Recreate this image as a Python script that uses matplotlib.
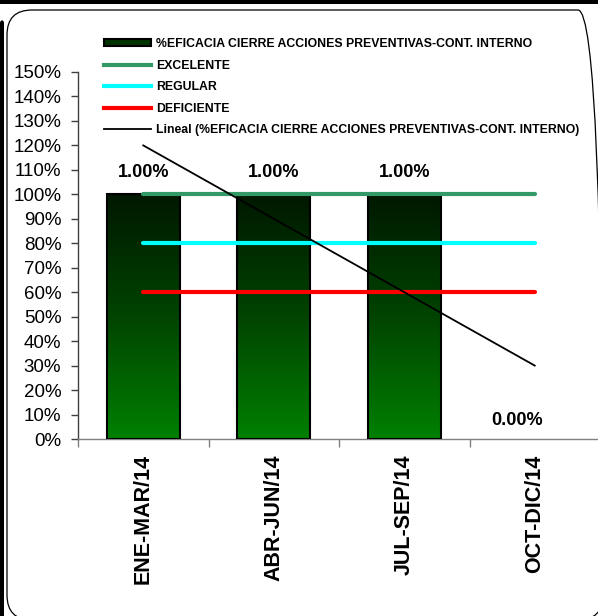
import numpy as np
import matplotlib
matplotlib.use("Agg")
import matplotlib.pyplot as plt
from matplotlib.patches import Rectangle, FancyBboxPatch, Patch
from matplotlib.lines import Line2D
from matplotlib.transforms import IdentityTransform
from matplotlib.colors import LinearSegmentedColormap
from matplotlib.ticker import FuncFormatter, FixedLocator

plt.rcParams['font.family'] = ['Liberation Sans', 'DejaVu Sans']

# ---- data ----
categories = ["ENE-MAR/14", "ABR-JUN/14", "JUL-SEP/14", "OCT-DIC/14"]
eficacia = [1.0, 1.0, 1.0, 0.0]
data_labels = ["1.00%", "1.00%", "1.00%", "0.00%"]
excelente = [1.0, 1.0, 1.0, 1.0]
regular = [0.8, 0.8, 0.8, 0.8]
deficiente = [0.6, 0.6, 0.6, 0.6]
serie_name = "%EFICACIA CIERRE ACCIONES PREVENTIVAS-CONT. INTERNO"
y_ticks = [i / 10 for i in range(16)]

W, H = 598, 616
fig = plt.figure(figsize=(W / 100, H / 100), dpi=100)
fig.patch.set_facecolor("white")

def px(x0, y0, x1, y1):
    # image pixel box -> figure fraction [left, bottom, width, height]
    return [x0 / W, 1 - y1 / H, (x1 - x0) / W, (y1 - y0) / H]

ax = fig.add_axes(px(78, 72, 600, 439))
ax.set_facecolor("none")

x = np.arange(len(categories))
bw = 0.56
cmap = LinearSegmentedColormap.from_list("g", ["#008000", "#004400", "#001800"])
grad = np.linspace(0, 1, 256).reshape(-1, 1)
for xi, v in zip(x, eficacia):
    if v > 0:
        ax.imshow(grad, extent=[xi - bw / 2, xi + bw / 2, 0, v], origin="lower",
                  aspect="auto", cmap=cmap, zorder=2, interpolation="bilinear")
edge_colors = ["black" if v > 0 else "none" for v in eficacia]
ax.bar(x, eficacia, width=bw, facecolor="none", edgecolor=edge_colors, linewidth=1.5, zorder=3)

ax.plot(x, excelente, color="#339966", lw=3, zorder=4, solid_capstyle="round")
ax.plot(x, regular, color="#00FFFF", lw=3, zorder=4, solid_capstyle="round")
ax.plot(x, deficiente, color="#FF0000", lw=3, zorder=4, solid_capstyle="round")

coef = np.polyfit(x, eficacia, 1)
ax.plot(x, np.polyval(coef, x), color="black", lw=1.3, zorder=5)

for xi, v, lab in zip(x, eficacia, data_labels):
    off = (0, 15.5) if v > 0 else (-12.5, 13.5)
    ax.annotate(lab, (xi, v), xytext=off, textcoords="offset points",
                ha="center", va="center", fontsize=13, fontweight="bold", zorder=6)

ax.set_xlim(-0.5, 3.5)
ax.set_ylim(0, 1.5)
ax.yaxis.set_major_locator(FixedLocator(y_ticks))
ax.yaxis.set_major_formatter(FuncFormatter(lambda v, p: f"{v*100:.0f}%"))
ax.tick_params(axis="y", direction="out", length=5, width=1, color="#404040",
               labelsize=13.5, pad=7)
ax.set_xticks(x)
ax.set_xticklabels(categories, rotation=90, fontsize=15.5, fontweight="bold")
ax.set_xticks(np.arange(-0.5, 4, 1), minor=True)
ax.tick_params(axis="x", which="major", length=0, pad=11)
ax.tick_params(axis="x", which="minor", direction="out", length=6, width=1, color="#808080")
for s in ["top", "right"]:
    ax.spines[s].set_visible(False)
ax.spines["left"].set_color("#404040")
ax.spines["bottom"].set_color("#808080")
ax.spines["left"].set_linewidth(1)
ax.spines["bottom"].set_linewidth(1)

# legend
handles = [
    Patch(facecolor="#003300", edgecolor="black", linewidth=1.5),
    Line2D([], [], color="#339966", lw=3),
    Line2D([], [], color="#00FFFF", lw=3),
    Line2D([], [], color="#FF0000", lw=3),
    Line2D([], [], color="black", lw=1.3),
]
labels = [serie_name, "EXCELENTE", "REGULAR", "DEFICIENTE", f"Lineal ({serie_name})"]
leg = fig.legend(handles, labels, loc="upper left",
                 bbox_to_anchor=(104 / W, 1 - 38 / H), frameon=False,
                 prop={"weight": "bold", "size": 8.8}, handlelength=3.85,
                 handleheight=0.5, handletextpad=0.4, labelspacing=0.78,
                 borderpad=0, borderaxespad=0)

# decorative borders (pixel coordinates)
T = IdentityTransform()
fig.patches.append(Rectangle((0, H - 4), W, 4, facecolor="black", edgecolor="none", transform=T, figure=fig))
fig.patches.append(FancyBboxPatch((0, -10), 4, H - 20 + 10, boxstyle="round,pad=0,rounding_size=3",
                                  facecolor="black", edgecolor="none", transform=T, figure=fig))
fig.patches.append(FancyBboxPatch((7, -4), 596, H - 10 + 4, boxstyle="round,pad=0,rounding_size=25",
                                  facecolor="none", edgecolor="black", linewidth=0.9,
                                  transform=T, figure=fig))

fig.savefig("out.png", dpi=100)
